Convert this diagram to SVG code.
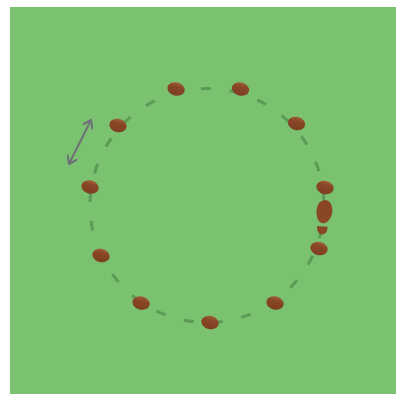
<svg xmlns="http://www.w3.org/2000/svg" width="396" height="394" viewBox="0 0 396 394">
<defs>
<linearGradient id="stoneG" x1="0" y1="0" x2="0" y2="1">
<stop offset="0" stop-color="#a0603a"/>
<stop offset="0.3" stop-color="#8a4727"/>
<stop offset="1" stop-color="#7c3e21"/>
</linearGradient>
<marker id="ah" markerWidth="12" markerHeight="12" refX="9" refY="6" orient="auto-start-reverse" markerUnits="userSpaceOnUse">
<path d="M2,1 L9,6 L2,11" fill="none" stroke="#6e6e78" stroke-width="2" stroke-linecap="round" stroke-linejoin="round"/>
</marker>
<ellipse id="stone" cx="0" cy="0" rx="8.8" ry="6.6" fill="url(#stoneG)"/>
</defs>
<style>
.path{fill:none;stroke:#5c9a57;stroke-width:3;stroke-dasharray:10 19;stroke-dashoffset:6;stroke-linecap:butt}
.arrow{stroke:#6e6e78;stroke-width:2;fill:none}
.foot{fill:#8a4727}
</style>
<rect x="10" y="7" width="386" height="387" fill="#7ac170"/>
<g id="connectors">
<circle class="path" cx="207" cy="205.5" r="117"/>
<line class="arrow" x1="91" y1="120" x2="69" y2="164" marker-start="url(#ah)" marker-end="url(#ah)"/>
</g>
<g id="stones">
<use id="s1" href="#stone" transform="translate(176,89) rotate(15)"/>
<use id="s2" href="#stone" transform="translate(240.5,89) rotate(15)"/>
<use id="s3" href="#stone" transform="translate(296.5,123.5) rotate(15)"/>
<use id="s4" href="#stone" transform="translate(325,187.5) rotate(15)"/>
<use id="s5" href="#stone" transform="translate(319,248.5) rotate(15)"/>
<use id="s6" href="#stone" transform="translate(275,303) rotate(15)"/>
<use id="s7" href="#stone" transform="translate(210,322.5) rotate(15)"/>
<use id="s8" href="#stone" transform="translate(141,303) rotate(15)"/>
<use id="s9" href="#stone" transform="translate(101,255.5) rotate(15)"/>
<use id="s10" href="#stone" transform="translate(90,187) rotate(15)"/>
<use id="s11" href="#stone" transform="translate(118,125.5) rotate(15)"/>
</g>
<g id="footprint">
<path class="foot" d="M325,200 C330,200 332.5,205 332.3,211 C332,217 328.5,223 323.5,223.3 C318.5,223.5 316.5,218 316.5,212 C316.5,205 320,200 325,200 Z"/>
<path class="foot" d="M317,226 L327.5,226.8 C327.8,231 325.5,234.5 322,234.5 C318.5,234.3 316.8,231 317,226 Z"/>
</g>
</svg>
